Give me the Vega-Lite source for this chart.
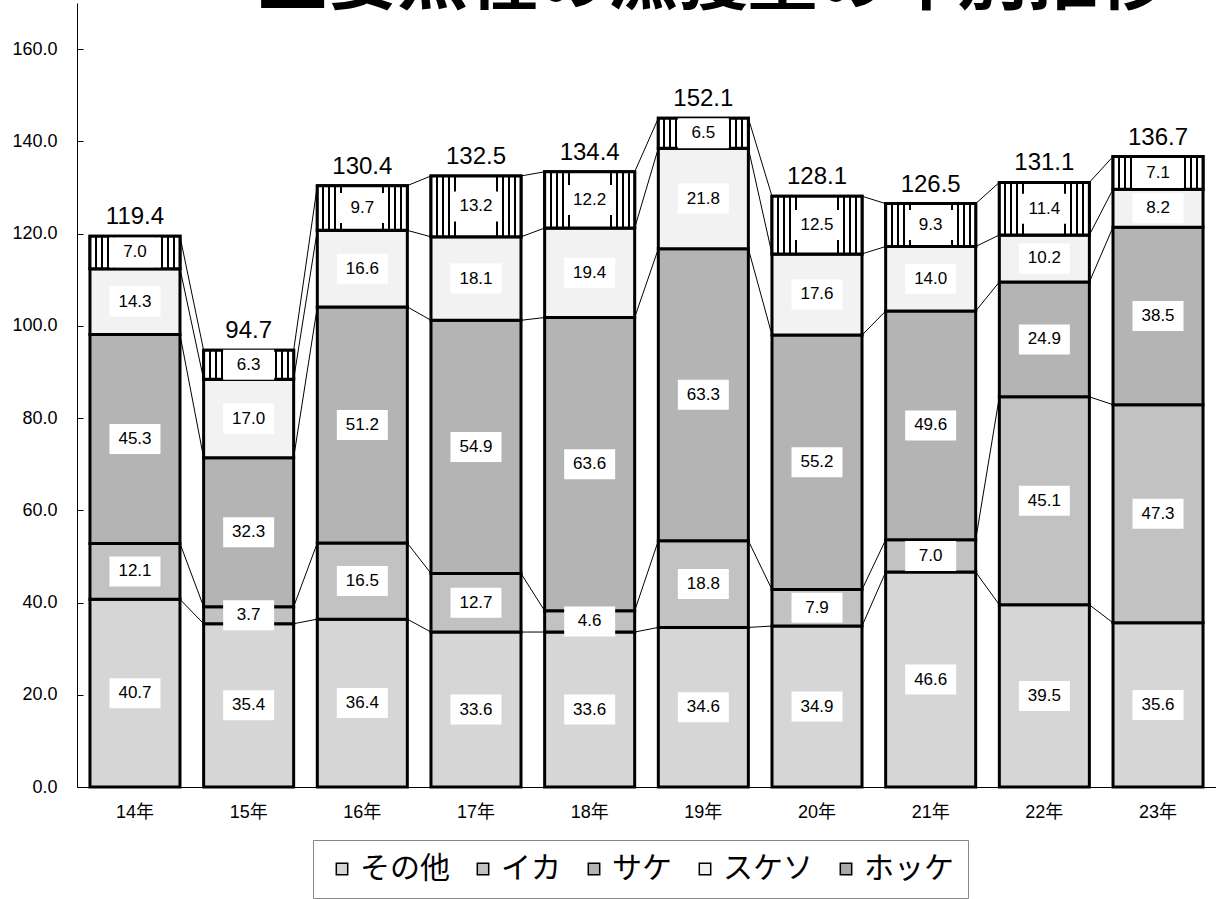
{
  "$schema": "https://vega.github.io/schema/vega-lite/v6.json",
  "width": 1139,
  "height": 784,
  "autosize": {"type": "none"},
  "padding": {"left": 77, "top": 3, "right": 0, "bottom": 112},
  "title": {"text": "主要魚種の漁獲量の年別推移", "fontSize": 70, "font": "Noto Sans CJK JP", "fontWeight": "bold", "anchor": "middle", "baseline": "bottom", "offset": 0, "dx": 66, "dy": 86, "color": "black"},
  "config": {"view": {"stroke": null}, "font": "Liberation Sans"},
  "datasets": {
    "seg": [
      {"year": "14年", "series": "その他", "order": 1, "value": 40.7, "total": 119.4},
      {"year": "14年", "series": "イカ", "order": 2, "value": 12.1, "total": 119.4},
      {"year": "14年", "series": "サケ", "order": 3, "value": 45.3, "total": 119.4},
      {"year": "14年", "series": "スケソ", "order": 4, "value": 14.3, "total": 119.4},
      {"year": "14年", "series": "ホッケ", "order": 5, "value": 7.0, "total": 119.4},
      {"year": "15年", "series": "その他", "order": 1, "value": 35.4, "total": 94.7},
      {"year": "15年", "series": "イカ", "order": 2, "value": 3.7, "total": 94.7},
      {"year": "15年", "series": "サケ", "order": 3, "value": 32.3, "total": 94.7},
      {"year": "15年", "series": "スケソ", "order": 4, "value": 17.0, "total": 94.7},
      {"year": "15年", "series": "ホッケ", "order": 5, "value": 6.3, "total": 94.7},
      {"year": "16年", "series": "その他", "order": 1, "value": 36.4, "total": 130.4},
      {"year": "16年", "series": "イカ", "order": 2, "value": 16.5, "total": 130.4},
      {"year": "16年", "series": "サケ", "order": 3, "value": 51.2, "total": 130.4},
      {"year": "16年", "series": "スケソ", "order": 4, "value": 16.6, "total": 130.4},
      {"year": "16年", "series": "ホッケ", "order": 5, "value": 9.7, "total": 130.4},
      {"year": "17年", "series": "その他", "order": 1, "value": 33.6, "total": 132.5},
      {"year": "17年", "series": "イカ", "order": 2, "value": 12.7, "total": 132.5},
      {"year": "17年", "series": "サケ", "order": 3, "value": 54.9, "total": 132.5},
      {"year": "17年", "series": "スケソ", "order": 4, "value": 18.1, "total": 132.5},
      {"year": "17年", "series": "ホッケ", "order": 5, "value": 13.2, "total": 132.5},
      {"year": "18年", "series": "その他", "order": 1, "value": 33.6, "total": 134.4},
      {"year": "18年", "series": "イカ", "order": 2, "value": 4.6, "total": 134.4},
      {"year": "18年", "series": "サケ", "order": 3, "value": 63.6, "total": 134.4},
      {"year": "18年", "series": "スケソ", "order": 4, "value": 19.4, "total": 134.4},
      {"year": "18年", "series": "ホッケ", "order": 5, "value": 12.2, "total": 134.4},
      {"year": "19年", "series": "その他", "order": 1, "value": 34.6, "total": 152.1},
      {"year": "19年", "series": "イカ", "order": 2, "value": 18.8, "total": 152.1},
      {"year": "19年", "series": "サケ", "order": 3, "value": 63.3, "total": 152.1},
      {"year": "19年", "series": "スケソ", "order": 4, "value": 21.8, "total": 152.1},
      {"year": "19年", "series": "ホッケ", "order": 5, "value": 6.5, "total": 152.1},
      {"year": "20年", "series": "その他", "order": 1, "value": 34.9, "total": 128.1},
      {"year": "20年", "series": "イカ", "order": 2, "value": 7.9, "total": 128.1},
      {"year": "20年", "series": "サケ", "order": 3, "value": 55.2, "total": 128.1},
      {"year": "20年", "series": "スケソ", "order": 4, "value": 17.6, "total": 128.1},
      {"year": "20年", "series": "ホッケ", "order": 5, "value": 12.5, "total": 128.1},
      {"year": "21年", "series": "その他", "order": 1, "value": 46.6, "total": 126.5},
      {"year": "21年", "series": "イカ", "order": 2, "value": 7.0, "total": 126.5},
      {"year": "21年", "series": "サケ", "order": 3, "value": 49.6, "total": 126.5},
      {"year": "21年", "series": "スケソ", "order": 4, "value": 14.0, "total": 126.5},
      {"year": "21年", "series": "ホッケ", "order": 5, "value": 9.3, "total": 126.5},
      {"year": "22年", "series": "その他", "order": 1, "value": 39.5, "total": 131.1},
      {"year": "22年", "series": "イカ", "order": 2, "value": 45.1, "total": 131.1},
      {"year": "22年", "series": "サケ", "order": 3, "value": 24.9, "total": 131.1},
      {"year": "22年", "series": "スケソ", "order": 4, "value": 10.2, "total": 131.1},
      {"year": "22年", "series": "ホッケ", "order": 5, "value": 11.4, "total": 131.1},
      {"year": "23年", "series": "その他", "order": 1, "value": 35.6, "total": 136.7},
      {"year": "23年", "series": "イカ", "order": 2, "value": 47.3, "total": 136.7},
      {"year": "23年", "series": "サケ", "order": 3, "value": 38.5, "total": 136.7},
      {"year": "23年", "series": "スケソ", "order": 4, "value": 8.2, "total": 136.7},
      {"year": "23年", "series": "ホッケ", "order": 5, "value": 7.1, "total": 136.7}
    ]
  },
  "data": {"name": "seg"},
  "encoding": {
    "x": {
      "field": "year", "type": "nominal", "title": null,
      "scale": {"paddingInner": 0.208, "paddingOuter": 0.114},
      "axis": {"labelAngle": 0, "ticks": false, "labelPadding": 16, "labelFontSize": 18, "labelFont": "Liberation Sans, Noto Sans CJK JP", "labelColor": "black", "domainColor": "black", "domainWidth": 1}
    }
  },
  "layer": [
    {
      "mark": {"type": "bar", "stroke": "black", "strokeWidth": 3},
      "encoding": {
        "y": {
          "field": "value", "type": "quantitative", "stack": "zero", "title": null,
          "scale": {"domain": [0, 170], "nice": false, "zero": true},
          "axis": {"values": [0, 20, 40, 60, 80, 100, 120, 140, 160], "format": ".1f", "grid": false, "tickSize": -6, "labelPadding": 26, "labelFontSize": 18, "labelFont": "Liberation Sans", "labelColor": "black", "domainColor": "black", "tickColor": "black"}
        },
        "color": {
          "field": "series", "type": "nominal",
          "scale": {"domain": ["その他", "イカ", "サケ", "スケソ", "ホッケ"], "range": ["#d6d6d6", "#c2c2c2", "#b4b4b4", "#f2f2f2", "#a8a8a8"]},
          "legend": {"title": null, "orient": "none", "legendX": 236, "legendY": 837, "direction": "horizontal", "columns": 5, "labelFontSize": 30, "labelFont": "Noto Sans CJK JP", "labelColor": "black", "symbolType": "square", "symbolSize": 130, "symbolStrokeColor": "black", "symbolStrokeWidth": 1.5, "strokeColor": "#888888", "fillColor": "white", "padding": 14, "columnPadding": 18, "labelOffset": 3}
        },
        "order": {"field": "order"}
      }
    },
    {
      "transform": [
        {"stack": "value", "groupby": ["year"], "sort": [{"field": "order"}], "as": ["y0", "y1"]},
        {"filter": "datum.series == 'ホッケ'"}
      ],
      "mark": {
        "type": "bar", "stroke": "black", "strokeWidth": 3,
        "fill": {"gradient": "linear", "x1": 0, "y1": 0, "x2": 1, "y2": 0, "stops": [
          {"offset": 0.056, "color": "white"}, {"offset": 0.056, "color": "black"}, {"offset": 0.078, "color": "black"}, {"offset": 0.078, "color": "white"},
          {"offset": 0.122, "color": "white"}, {"offset": 0.122, "color": "black"}, {"offset": 0.144, "color": "black"}, {"offset": 0.144, "color": "white"},
          {"offset": 0.189, "color": "white"}, {"offset": 0.189, "color": "black"}, {"offset": 0.211, "color": "black"}, {"offset": 0.211, "color": "white"},
          {"offset": 0.256, "color": "white"}, {"offset": 0.256, "color": "black"}, {"offset": 0.278, "color": "black"}, {"offset": 0.278, "color": "white"},
          {"offset": 0.722, "color": "white"}, {"offset": 0.722, "color": "black"}, {"offset": 0.744, "color": "black"}, {"offset": 0.744, "color": "white"},
          {"offset": 0.789, "color": "white"}, {"offset": 0.789, "color": "black"}, {"offset": 0.811, "color": "black"}, {"offset": 0.811, "color": "white"},
          {"offset": 0.856, "color": "white"}, {"offset": 0.856, "color": "black"}, {"offset": 0.878, "color": "black"}, {"offset": 0.878, "color": "white"},
          {"offset": 0.922, "color": "white"}, {"offset": 0.922, "color": "black"}, {"offset": 0.944, "color": "black"}, {"offset": 0.944, "color": "white"}
        ]}
      },
      "encoding": {
        "y": {"field": "y0", "type": "quantitative", "title": null},
        "y2": {"field": "y1"}
      }
    },
    {
      "transform": [
        {"stack": "value", "groupby": ["year"], "sort": [{"field": "order"}], "as": ["y0", "y1"]},
        {"window": [{"op": "lead", "field": "y1", "as": "ny1"}, {"op": "lead", "field": "year", "as": "nyear"}], "groupby": ["series"], "sort": [{"field": "year"}]},
        {"filter": "datum.nyear != null"}
      ],
      "mark": {"type": "rule", "stroke": "black", "strokeWidth": 1},
      "encoding": {
        "x": {"field": "year", "type": "nominal", "bandPosition": 1},
        "x2": {"field": "nyear", "bandPosition": 0},
        "y": {"field": "y1", "type": "quantitative", "title": null},
        "y2": {"field": "ny1"}
      }
    },
    {
      "mark": {"type": "point", "shape": "M-1.7,-1H1.7V1H-1.7Z", "filled": true, "fill": "white", "opacity": 1, "strokeWidth": 0, "size": 900},
      "encoding": {
        "y": {"field": "value", "type": "quantitative", "stack": "zero", "bandPosition": 0.5, "title": null},
        "detail": {"field": "series"},
        "order": {"field": "order"}
      }
    },
    {
      "mark": {"type": "text", "fontSize": 17, "baseline": "middle", "align": "center", "color": "black"},
      "encoding": {
        "y": {"field": "value", "type": "quantitative", "stack": "zero", "bandPosition": 0.5, "title": null},
        "detail": {"field": "series"},
        "order": {"field": "order"},
        "text": {"field": "value", "type": "quantitative", "format": ".1f"}
      }
    },
    {
      "transform": [
        {"aggregate": [{"op": "sum", "field": "value", "as": "top"}, {"op": "max", "field": "total", "as": "tot"}], "groupby": ["year"]}
      ],
      "mark": {"type": "text", "fontSize": 24, "baseline": "alphabetic", "align": "center", "dy": -12, "color": "black"},
      "encoding": {
        "y": {"field": "top", "type": "quantitative", "title": null},
        "text": {"field": "tot", "type": "quantitative", "format": ".1f"}
      }
    }
  ]
}
